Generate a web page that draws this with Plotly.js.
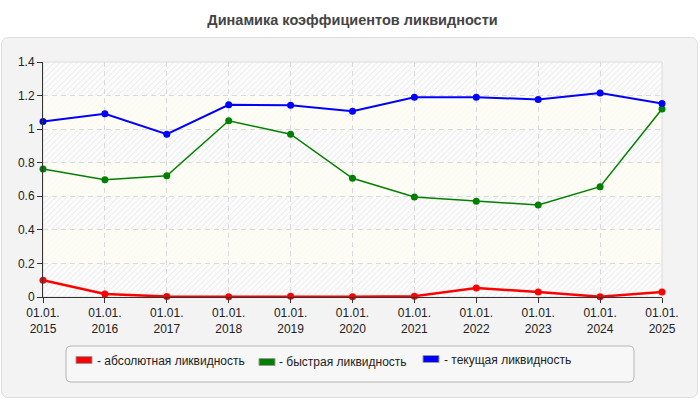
<!DOCTYPE html>
<html>
<head>
<meta charset="utf-8">
<script src="https://cdn.plot.ly/plotly-3.0.1.min.js"></script>
<style>
  html, body { margin: 0; padding: 0; background: #ffffff; }
  #wrap { position: relative; width: 700px; height: 400px; }
  #panel { position: absolute; left: 1px; top: 37px; width: 695px; height: 359px;
           background: #f3f3f3; border: 1px solid #dedede; border-radius: 7px; }
  #chart { position: absolute; left: 0; top: 0; width: 700px; height: 400px; }
</style>
</head>
<body>
<div id="wrap">
  <div id="panel"></div>
  <div id="chart"></div>
</div>
<script>
// ---- data ----
const categories = ['01.01.<br>2015','01.01.<br>2016','01.01.<br>2017','01.01.<br>2018','01.01.<br>2019',
                    '01.01.<br>2020','01.01.<br>2021','01.01.<br>2022','01.01.<br>2023','01.01.<br>2024','01.01.<br>2025'];
const absoluteLiquidity = [0.100, 0.018, 0.003, 0.002, 0.005, 0.001, 0.005, 0.053, 0.030, 0.002, 0.030];
const quickLiquidity    = [0.762, 0.698, 0.722, 1.050, 0.970, 0.707, 0.596, 0.570, 0.548, 0.657, 1.120];
const currentLiquidity  = [1.046, 1.092, 0.970, 1.145, 1.143, 1.107, 1.190, 1.190, 1.177, 1.215, 1.153];
const seriesNames  = ['- абсолютная ликвидность', '- быстрая ликвидность', '- текущая ликвидность'];
const seriesColors = ['#ff0000', '#008000', '#0000ff'];
const yTicks = [0, 0.2, 0.4, 0.6, 0.8, 1, 1.2, 1.4];
const chartTitle = 'Динамика коэффициентов ликвидности';

// ---- geometry helpers (plot area in pixels) ----
const W = 700, H = 400, L = 43, R = 38, T = 62, B = 103;
const pw = W - L - R, ph = H - T - B;
const px = x => (x - L) / pw;
const py = y => (H - B - y) / ph;

const seriesValues = [absoluteLiquidity, quickLiquidity, currentLiquidity];
const lineWidths = [2.5, 1.5, 2];
const traces = seriesValues.map((vals, i) => ({
  type: 'scatter', mode: 'lines+markers',
  x: categories, y: vals, name: seriesNames[i],
  line: { color: seriesColors[i], width: lineWidths[i] },
  marker: { color: seriesColors[i], size: 7 },
  cliponaxis: false, showlegend: false, hoverinfo: 'y'
}));

// hatch background image
const hatch = "<svg xmlns='http://www.w3.org/2000/svg' width='" + pw + "' height='" + ph + "'>" +
  "<defs><pattern id='p' width='4' height='4' patternUnits='userSpaceOnUse' patternTransform='rotate(45)'>" +
  "<rect width='4' height='4' fill='#fcfcfc'/><line x1='0' y1='0' x2='0' y2='4' stroke='#e6e6e6' stroke-width='1.3'/>" +
  "</pattern></defs><rect width='100%' height='100%' fill='url(#p)'/></svg>";

const shapes = [];
// alternating light bands
for (let i = 1; i < yTicks.length - 1; i += 2) {
  shapes.push({ type: 'rect', layer: 'below', xref: 'paper', yref: 'y',
    x0: 0, x1: 1, y0: yTicks[i], y1: yTicks[i + 1],
    fillcolor: 'rgba(253,253,244,0.85)', line: { width: 0 } });
}
// plot border (top/right light)
shapes.push({ type: 'rect', layer: 'below', xref: 'paper', yref: 'paper', x0: 0, x1: 1, y0: 0, y1: 1,
  line: { color: '#dcdcdc', width: 1 }, fillcolor: 'rgba(0,0,0,0)' });

// legend box (rounded)
const lx0 = px(66), lx1 = px(634), ly0 = py(382), ly1 = py(346);
const rr = 5 / pw, rry = 5 / ph;
shapes.push({ type: 'path', xref: 'paper', yref: 'paper', layer: 'above',
  path: `M ${lx0 + rr} ${ly1} L ${lx1 - rr} ${ly1} Q ${lx1} ${ly1} ${lx1} ${ly1 - rry} L ${lx1} ${ly0 + rry} Q ${lx1} ${ly0} ${lx1 - rr} ${ly0} L ${lx0 + rr} ${ly0} Q ${lx0} ${ly0} ${lx0} ${ly0 + rry} L ${lx0} ${ly1 - rry} Q ${lx0} ${ly1} ${lx0 + rr} ${ly1} Z`,
  fillcolor: '#f7f7f7', line: { color: '#b4b4b4', width: 1 } });

const legendRect = [[76, 356.5], [259, 358.5], [423, 355.5]];
const legendText = [[95, 361], [277, 362], [442, 360]];
const annotations = [];
legendRect.forEach((p, i) => {
  shapes.push({ type: 'rect', xref: 'paper', yref: 'paper', layer: 'above',
    x0: px(p[0]), x1: px(p[0] + 16), y0: py(p[1] + 7), y1: py(p[1]),
    fillcolor: seriesColors[i], line: { color: '#999999', width: 1 } });
  annotations.push({ xref: 'paper', yref: 'paper', x: px(legendText[i][0]), y: py(legendText[i][1]),
    xanchor: 'left', yanchor: 'middle', showarrow: false, text: seriesNames[i],
    font: { family: 'Liberation Sans, Arial, sans-serif', size: 12, color: '#222222' } });
});

const layout = {
  width: W, height: H,
  margin: { l: L, r: R, t: T, b: B },
  paper_bgcolor: 'rgba(0,0,0,0)',
  plot_bgcolor: 'rgba(0,0,0,0)',
  font: { family: 'Liberation Sans, Arial, sans-serif', size: 12, color: '#222222' },
  title: { text: '<b>' + chartTitle + '</b>', x: 0.5, xref: 'paper', xanchor: 'center',
           y: 1 - 20 / H, yref: 'container', yanchor: 'middle',
           font: { family: 'Liberation Sans, Arial, sans-serif', size: 14.5, color: '#444444' } },
  showlegend: false,
  xaxis: {
    type: 'category', range: [0, categories.length - 1],
    showline: true, linecolor: '#333333', linewidth: 1,
    ticks: 'outside', ticklen: 5, tickcolor: '#333333',
    showgrid: true, gridcolor: '#dadada', griddash: '5px,4px', gridwidth: 1,
    tickfont: { size: 12, color: '#222222' }, zeroline: false, fixedrange: true
  },
  yaxis: {
    range: [0, 1.4], tickvals: yTicks,
    showline: true, linecolor: '#333333', linewidth: 1,
    ticks: 'outside', ticklen: 5, tickcolor: '#333333',
    showgrid: true, gridcolor: '#dadada', griddash: '5px,4px', gridwidth: 1,
    tickfont: { size: 12, color: '#222222' }, zeroline: false, fixedrange: true
  },
  images: [{ source: 'data:image/svg+xml;charset=utf-8,' + encodeURIComponent(hatch),
    xref: 'paper', yref: 'paper', x: 0, y: 1, sizex: 1, sizey: 1,
    xanchor: 'left', yanchor: 'top', sizing: 'stretch', layer: 'below' }],
  shapes: shapes,
  annotations: annotations
};

Plotly.newPlot('chart', traces, layout, { displayModeBar: false, staticPlot: true });
</script>
</body>
</html>
